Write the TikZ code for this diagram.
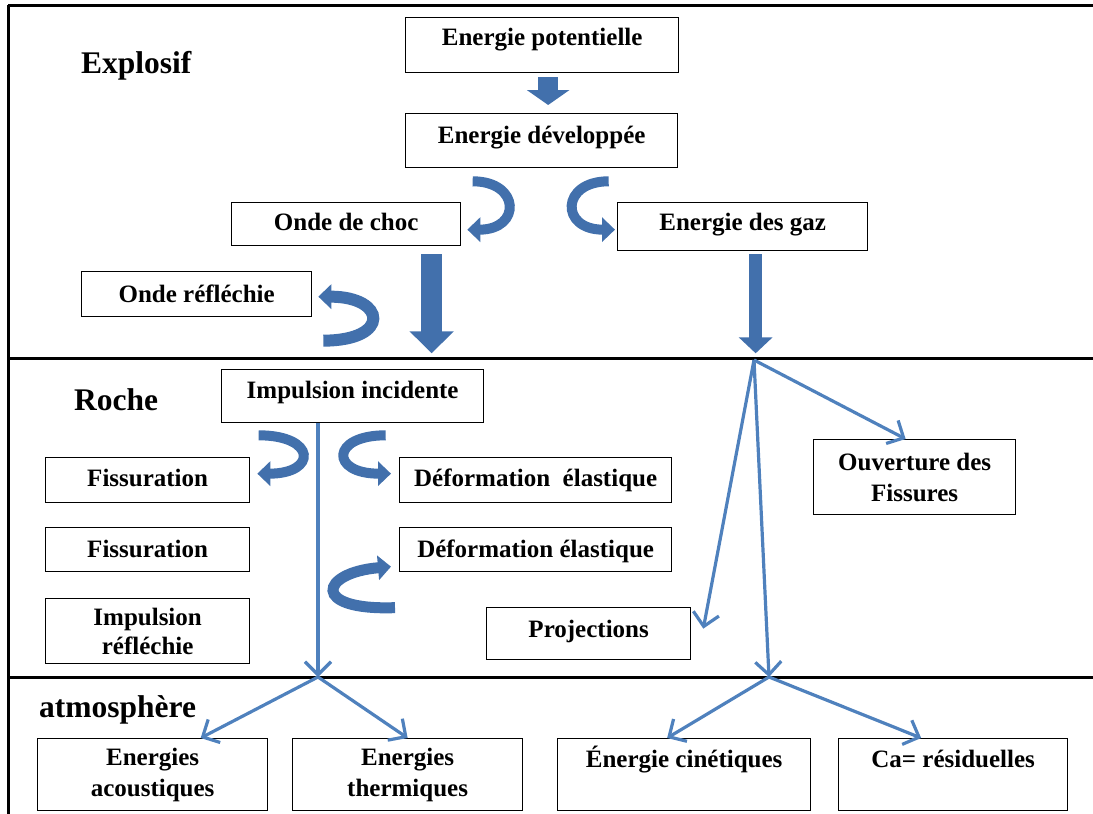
\documentclass[tikz,border=0pt]{standalone}
\usepackage{fontspec}
\setmainfont{Liberation Serif}
\usetikzlibrary{arrows.meta,calc}
\definecolor{arrowblue}{RGB}{79,129,189}
\definecolor{curvblue}{RGB}{66,112,172}
\newcommand\boxfont{\fontsize{25}{29}\selectfont\bfseries}
\newcommand\botfont{\fontsize{25}{31}\selectfont\bfseries}
\newcommand\labfont{\fontsize{31.5}{36}\selectfont\bfseries}
\begin{document}
\begin{tikzpicture}[x=1pt,y=-1pt,
  boxbase/.style={draw=black, line width=1.3pt, inner sep=0pt, anchor=north west, align=center},
  box/.style={boxbase, font=\boxfont, text height=18pt},
  boxtwo/.style={boxbase, font=\boxfont},
  boxbot/.style={boxbase, font=\botfont},
  lab/.style={anchor=base west, font=\labfont, inner sep=0pt},
  frame/.style={line width=3pt, black},
  thinarrow/.style={line width=3.2pt, arrowblue, -{Straight Barb[length=13pt,width=26pt]}},
  blksmall/.style={line width=20pt, curvblue, -{Triangle[length=15pt,width=42pt]}},
  blkbig/.style={line width=21pt, curvblue, -{Triangle[length=22pt,width=43pt]}},
  blkgaz/.style={line width=13pt, curvblue, -{Triangle[length=16pt,width=33pt]}},
  curv/.style={line width=10pt, curvblue, -{Triangle[length=13pt,width=24pt]}}
]
\useasboundingbox (0,0) rectangle (1093,814);
% frame
\draw[frame] (8,5) -- (1093,5);
\draw[frame] (8,5) -- (8,814);
\draw[frame] (8,358) -- (1093,358);
\draw[frame] (8,677) -- (1093,677);
% labels
\node[lab] (lex) at (81,73) {Explosif};
\node[lab] (lro) at (74,410) {Roche};
\node[lab] (lat) at (39,717) {atmosphère};
% boxes
\node[box, minimum width=273pt, minimum height=55pt, text depth=17pt] (ep) at (405,17) {Energie potentielle};
\node[box, minimum width=272pt, minimum height=54pt, text depth=12pt] (ed) at (405,113) {Energie développée};
\node[box, minimum width=229pt, minimum height=43pt, text depth=5pt] (odc) at (231,202) {Onde de choc};
\node[box, minimum width=250pt, minimum height=48pt, text depth=10pt] (gaz) at (617,202) {Energie des gaz};
\node[box, minimum width=230pt, minimum height=45pt, text depth=1pt] (orf) at (81,271) {Onde réfléchie};
\node[box, minimum width=262pt, minimum height=53pt, text depth=13pt] (ii) at (221,369) {Impulsion incidente};
\node[box, minimum width=204pt, minimum height=45pt, text depth=5pt] (fis1) at (45,457) {Fissuration};
\node[box, minimum width=272pt, minimum height=45pt, text depth=5pt] (def1) at (399,457) {Déformation~ élastique};
\node[box, minimum width=204pt, minimum height=44pt, text depth=2pt] (fis2) at (45,527) {Fissuration};
\node[box, minimum width=272pt, minimum height=44pt, text depth=2pt] (def2) at (399,527) {Déformation élastique};
\node[boxtwo, minimum width=204pt, minimum height=65pt] (ir) at (45,598) {Impulsion\\réfléchie};
\node[box, minimum width=204pt, minimum height=52pt, text depth=10pt] (pr) at (486,607) {Projections};
\node[boxbot, minimum width=202pt, minimum height=75pt] (ov) at (813,439) {Ouverture des\\Fissures};
\node[boxbot, minimum width=230pt, minimum height=72pt] (ea) at (37,738) {Energies\\acoustiques};
\node[boxbot, minimum width=230pt, minimum height=72pt] (et) at (292,738) {Energies\\thermiques};
\node[box, minimum width=253pt, minimum height=72pt, text depth=32pt] (ec) at (557,738) {Énergie cinétiques};
\node[box, minimum width=229pt, minimum height=72pt, text depth=32pt] (cr) at (838,738) {Ca= résiduelles};
% straight block arrows
\draw[blksmall] ($(ep.south)+(6,4)$) -- ($(ed.north)+(6.5,-8)$);
\draw[blkbig] ($(odc.south)+(85.5,8)$) -- ($(odc.south)+(85.5,107)$);
\draw[blkgaz] ($(gaz.south)+(13,3)$) -- ($(gaz.south)+(13,102)$);
% curved block arrows
\draw[curv] ($(ed.south)+(-69,13)$) .. controls ($(ed.south)+(-21,13)$) and ($(odc.east)+(60,5.5)$) .. ($(odc.east)+(6,5.5)$);
\draw[curv] ($(ed.south)+(67,13)$) .. controls ($(ed.south)+(19,13)$) and ($(gaz.west)+(-57,3)$) .. ($(gaz.west)+(-2,3)$);
\draw[curv, line width=12pt] ($(orf.east)+(11,46.5)$) .. controls ($(orf.east)+(79,46.5)$) and ($(orf.east)+(74,2.5)$) .. ($(orf.east)+(6,2.5)$);
\draw[curv] ($(ii.south)+(-94,12)$) .. controls ($(ii.south)+(-36,12)$) and ($(fis1.east)+(67,-6.5)$) .. ($(fis1.east)+(7,-6.5)$);
\draw[curv] ($(ii.south)+(33,12)$) .. controls ($(ii.south)+(-22,12)$) and ($(def1.west)+(-69,-6.5)$) .. ($(def1.west)+(-8,-6.5)$);
\draw[curv, line width=11pt] ($(def2.west)+(-4,58)$) .. controls ($(def2.west)+(-89,61)$) and ($(def2.west)+(-79,23)$) .. ($(def2.west)+(-8,17)$);
% thin arrows
\coordinate (s1) at (318,677);
\coordinate (g0) at (754,360);
\coordinate (s2) at (769,677);
\draw[thinarrow] (ii.south -| s1) -- (s1);
\draw[thinarrow] (s1) -- ($(ea.north)+(48,0)$);
\draw[thinarrow] (s1) -- (et.north);
\draw[thinarrow] (g0) -- ($(pr.east)+(12,-5)$);
\draw[thinarrow] (g0) -- (s2);
\draw[thinarrow] (g0) -- ($(ov.north)+(-9,0)$);
\draw[thinarrow] (s2) -- ($(ec.north)+(-17,0)$);
\draw[thinarrow] (s2) -- ($(cr.north)+(-32,0)$);
\end{tikzpicture}
\end{document}
